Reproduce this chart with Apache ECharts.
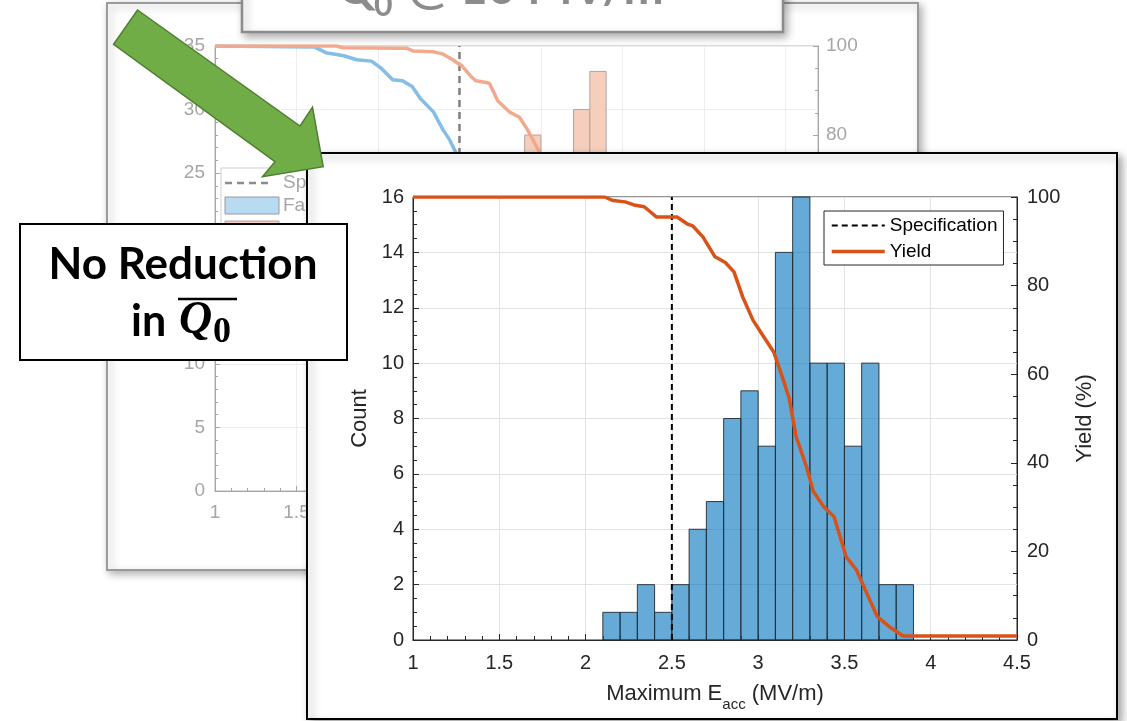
<!DOCTYPE html>
<html><head><meta charset="utf-8">
<script src="https://cdn.jsdelivr.net/npm/echarts@6/dist/echarts.min.js"></script>
<style>html,body{margin:0;padding:0;background:#fff}#c{width:1127px;height:721px}</style>
</head><body><div id="c"></div>
<script>
// ===== Front chart data =====
const binLeft   = [2.1,2.2,2.3,2.4,2.5,2.6,2.7,2.8,2.9,3.0,3.1,3.2,3.3,3.4,3.5,3.6,3.7,3.8];
const binCounts = [1,1,2,1,2,4,5,8,9,7,14,16,10,10,7,10,2,2];
const binWidth  = 0.1;
const yieldX = [1.0,2.11,2.16,2.23,2.28,2.34,2.38,2.41,2.53,2.59,2.62,2.68,2.75,2.81,2.86,2.91,2.97,3.02,3.09,3.14,3.18,3.22,3.28,3.32,3.38,3.44,3.51,3.57,3.63,3.69,3.76,3.84,4.5];
const yieldY = [100,100,99.2,98.9,98.2,97.8,96.5,95.5,95.5,93.9,93.5,91.0,86.5,85.2,83.1,77.5,72.2,69.2,65.0,59.4,54.5,45.9,39.1,33.5,30.1,27.8,18.8,15.8,10.5,5.3,3.0,0.9,0.9];
const specE = 2.5;
const legendNames = ['Specification','Yield'];

// ===== Background (faded) chart data =====
const bgBinLeft   = [2.9,3.2,3.3];
const bgBinCounts = [28,30,33];
const bgBlueX = [1.0,1.61,1.68,1.79,1.87,1.96,2.02,2.09,2.15,2.21,2.26,2.34,2.40,2.44,2.48,2.53];
const bgBlueY = [100,99.8,98.5,97.8,96.9,96.6,95.0,92.4,92.2,90.9,88.2,85.2,81.1,78.9,75.9,70];
const bgOrangeX = [1.0,1.745,1.786,2.133,2.174,2.214,2.337,2.378,2.398,2.459,2.49,2.511,2.572,2.60,2.664,2.684,2.735,2.806,2.868,2.919,2.99,3.05];
const bgOrangeY = [100,100,99.6,99.5,99.5,98.9,98.7,98.4,98.2,96.9,96.1,95.7,93.1,92.2,91.8,91.6,87.7,85.2,84.0,81.1,76.2,68];

const FONT = 'Liberation Sans';
const zip = (a,b)=>a.map((v,i)=>[v,b[i]]);

function histRender(fill, stroke, lw){
  return function(params, api){
    const x0 = api.value(0), x1 = api.value(1), c = api.value(2);
    const p0 = api.coord([x0, 0]);
    const p1 = api.coord([x1, c]);
    return {type:'rect', shape:{x:p0[0], y:p1[1], width:p1[0]-p0[0], height:p0[1]-p1[1]},
            style:{fill:fill, stroke:stroke, lineWidth:lw}};
  };
}

const bgGrey = '#a6a6a6';
const fg = '#262626';

const option = {
  animation:false,
  backgroundColor:'#fff',
  grid:[
    {left:215, top:46, width:603, height:445, show:true, borderColor:'#b4b4b4', borderWidth:1, backgroundColor:'transparent', z:1, outerBoundsMode:'none'},
    {left:413, top:197, width:604, height:443, show:true, borderColor:fg, borderWidth:1, backgroundColor:'transparent', z:11, outerBoundsMode:'none'}
  ],
  xAxis:[
    {type:'value', gridIndex:0, min:1, max:4.7, interval:0.5, z:1,
     axisLine:{lineStyle:{color:bgGrey}}, axisTick:{inside:true, length:5, lineStyle:{color:bgGrey}},
     minorTick:{show:true, splitNumber:5, length:3, lineStyle:{color:bgGrey}},
     axisLabel:{color:bgGrey, fontSize:19, fontFamily:FONT, margin:12, showMaxLabel:false},
     splitLine:{show:true, lineStyle:{color:'#eeeeee'}}},
    {type:'value', gridIndex:1, min:1, max:4.5, interval:0.5, z:12,
     axisLine:{lineStyle:{color:fg}}, axisTick:{inside:true, length:6, lineStyle:{color:fg}},
     minorTick:{show:true, splitNumber:5, length:4, lineStyle:{color:fg}},
     axisLabel:{color:fg, fontSize:20, fontFamily:FONT, margin:13},
     splitLine:{show:true, lineStyle:{color:'#e3e3e3'}},
     name:'{a|Maximum E}{b|acc}{a| (MV/m)}', nameLocation:'middle', nameGap:43,
     nameTextStyle:{color:fg, fontFamily:FONT, fontSize:22,
       rich:{a:{fontSize:22, fontFamily:FONT, color:fg, verticalAlign:'bottom', padding:[0,0,7,0]},
             b:{fontSize:15, fontFamily:FONT, color:fg, verticalAlign:'bottom'}}}}
  ],
  yAxis:[
    {type:'value', gridIndex:0, min:0, max:35, interval:5, position:'left', z:1,
     axisLine:{show:true, lineStyle:{color:bgGrey}}, axisTick:{inside:true, length:5, lineStyle:{color:bgGrey}},
     minorTick:{show:true, splitNumber:5, length:3, lineStyle:{color:bgGrey}},
     axisLabel:{color:bgGrey, fontSize:19, fontFamily:FONT, margin:10},
     splitLine:{show:true, lineStyle:{color:'#eeeeee'}}},
    {type:'value', gridIndex:0, min:0, max:100, interval:20, position:'right', z:1,
     axisLine:{show:true, lineStyle:{color:bgGrey}}, axisTick:{inside:true, length:5, lineStyle:{color:bgGrey}},
     minorTick:{show:true, splitNumber:4, length:3, lineStyle:{color:bgGrey}},
     axisLabel:{color:bgGrey, fontSize:19, fontFamily:FONT, margin:8},
     splitLine:{show:false}},
    {type:'value', gridIndex:1, min:0, max:16, interval:2, position:'left', z:12,
     axisLine:{show:true, lineStyle:{color:fg}}, axisTick:{inside:true, length:6, lineStyle:{color:fg}},
     minorTick:{show:true, splitNumber:4, length:4, lineStyle:{color:fg}},
     axisLabel:{color:fg, fontSize:20, fontFamily:FONT, margin:9},
     splitLine:{show:true, lineStyle:{color:'#e3e3e3'}},
     name:'Count', nameLocation:'middle', nameRotate:90, nameGap:40,
     nameTextStyle:{color:fg, fontSize:22, fontFamily:FONT}},
    {type:'value', gridIndex:1, min:0, max:100, interval:20, position:'right', z:12,
     axisLine:{show:true, lineStyle:{color:fg}}, axisTick:{inside:true, length:6, lineStyle:{color:fg}},
     minorTick:{show:true, splitNumber:4, length:4, lineStyle:{color:fg}},
     axisLabel:{color:fg, fontSize:20, fontFamily:FONT, margin:10},
     splitLine:{show:false},
     name:'Yield (%)', nameLocation:'middle', nameRotate:90, nameGap:57,
     nameTextStyle:{color:fg, fontSize:22, fontFamily:FONT}}
  ],
  legend:[{
    data:[{name:legendNames[0], lineStyle:{width:2}}, {name:legendNames[1], lineStyle:{width:3.5}}],
    orient:'vertical', left:824, top:211, z:20,
    backgroundColor:'#fff', borderColor:fg, borderWidth:1, borderRadius:0,
    padding:[5,6,4,6], itemGap:7, itemWidth:53, itemHeight:14,
    itemStyle:{opacity:0},
    textStyle:{fontFamily:FONT, fontSize:19, color:'#000'}
  }],
  series:[
    // background chart
    {name:'bgHist', type:'custom', xAxisIndex:0, yAxisIndex:0, z:2,
     renderItem:histRender('#f5cebd','#b3a49e',1),
     encode:{x:[0,1], y:2},
     data:bgBinLeft.map((l,i)=>[l, l+0.1, bgBinCounts[i]])},
    {name:'bgSpec', type:'line', xAxisIndex:0, yAxisIndex:1, z:3, symbol:'none',
     lineStyle:{color:'#7f7f7f', width:2.5, type:[7,5]}, data:[[specE,0],[specE,100]]},
    {name:'bgBlue', type:'line', xAxisIndex:0, yAxisIndex:1, z:3, symbol:'none',
     lineStyle:{color:'#85bde6', width:3.5}, data:zip(bgBlueX,bgBlueY)},
    {name:'bgOrange', type:'line', xAxisIndex:0, yAxisIndex:1, z:3, symbol:'none',
     lineStyle:{color:'#f2aa8e', width:3.5}, data:zip(bgOrangeX,bgOrangeY)},
    // front chart
    {name:'Count', type:'custom', xAxisIndex:1, yAxisIndex:2, z:13,
     renderItem:histRender('rgba(0,114,189,0.6)','#1f2a33',0.9),
     encode:{x:[0,1], y:2},
     data:binLeft.map((l,i)=>[l, l+binWidth, binCounts[i]])},
    {name:'Specification', type:'line', xAxisIndex:1, yAxisIndex:2, z:14, symbol:'none',
     itemStyle:{color:'#000'},
     lineStyle:{color:'#000', width:2, type:[6,4]}, data:[[specE,0],[specE,16]]},
    {name:'Yield', type:'line', xAxisIndex:1, yAxisIndex:3, z:15, symbol:'none',
     itemStyle:{color:'#D95319'},
     lineStyle:{color:'#D95319', width:3.5}, data:zip(yieldX,yieldY)}
  ],
  graphic:{elements:[
    // background slide panel
    {type:'rect', z:-1, shape:{x:107,y:3,width:811,height:567},
     style:{fill:'#fff', stroke:'#9a9a9a', lineWidth:2, shadowBlur:8, shadowColor:'rgba(0,0,0,0.3)', shadowOffsetX:3, shadowOffsetY:3}},
    // background legend (partially covered)
    {type:'rect', z:3, shape:{x:221,y:168,width:160,height:110}, style:{fill:'#fff', stroke:'#cfcfcf', lineWidth:1}},
    {type:'line', z:3, shape:{x1:225,y1:183,x2:272,y2:183}, style:{stroke:'#8c8c8c', lineWidth:2.5, lineDash:[7,5]}},
    {type:'text', z:3, x:283, y:183, style:{text:'Specification', fontSize:19, fontFamily:FONT, fill:bgGrey, verticalAlign:'middle'}},
    {type:'rect', z:3, shape:{x:225,y:197,width:54,height:17}, style:{fill:'#b9dbf1', stroke:'#9a9a9a', lineWidth:1}},
    {type:'text', z:3, x:283, y:206, style:{text:'Fabrication', fontSize:19, fontFamily:FONT, fill:bgGrey, verticalAlign:'middle'}},
    {type:'rect', z:3, shape:{x:225,y:221,width:54,height:17}, style:{fill:'#f5cebd', stroke:'#b3a49e', lineWidth:1}},
    // title box
    {type:'rect', z:6, shape:{x:242,y:-20,width:541,height:52},
     style:{fill:'#fff', stroke:'#8c8c8c', lineWidth:2.5, shadowBlur:8, shadowColor:'rgba(0,0,0,0.3)', shadowOffsetX:3, shadowOffsetY:4}},
    {type:'text', z:7, x:337, y:-11, style:{text:'Q', fontSize:48, fontWeight:'bold', fontFamily:'Lato', fill:'#8c8c8c', verticalAlign:'middle'}},
    {type:'text', z:7, x:374, y:6, style:{text:'0', fontSize:32, fontWeight:'bold', fontFamily:'Lato', fill:'#8c8c8c', verticalAlign:'middle'}},
    {type:'text', z:7, x:396, y:-11, style:{text:' @ 10 MV/m', fontSize:48, fontWeight:'bold', fontFamily:'Lato', fill:'#8c8c8c', verticalAlign:'middle'}},
    // front slide panel
    {type:'rect', z:10, shape:{x:307,y:153,width:810,height:566},
     style:{fill:'#fff', stroke:'#000', lineWidth:2, shadowBlur:8, shadowColor:'rgba(0,0,0,0.35)', shadowOffsetX:4, shadowOffsetY:4}},
    // callout box
    {type:'rect', z:30, shape:{x:20,y:224,width:327,height:136}, style:{fill:'#fff', stroke:'#000', lineWidth:2}},
    {type:'text', z:31, x:183, y:265, style:{text:'No Reduction', fontSize:44, fontWeight:'bold', fontFamily:'Lato', fill:'#000', align:'center', verticalAlign:'middle'}},
    {type:'text', z:31, x:131, y:322, style:{text:'in', fontSize:43, fontWeight:'bold', fontFamily:'Lato', fill:'#000', verticalAlign:'middle'}},
    {type:'text', z:31, x:179, y:321, style:{text:'Q', fontSize:46, fontWeight:'bold', fontStyle:'italic', fontFamily:'Liberation Serif', fill:'#000', verticalAlign:'middle'}},
    {type:'text', z:31, x:213, y:333, style:{text:'0', fontSize:36, fontWeight:'bold', fontFamily:'Liberation Serif', fill:'#000', verticalAlign:'middle'}},
    {type:'line', z:31, shape:{x1:178,y1:299,x2:237,y2:299}, style:{stroke:'#000', lineWidth:2.5}},
    // green arrow
    {type:'polygon', z:30, shape:{points:[[113.6,44.3],[137.5,10],[300,126],[312.5,107.3],[323.2,166.7],[262.5,176.7],[275,161.7]]},
     style:{fill:'#70ad47', stroke:'#4f7f31', lineWidth:1.5}}
  ]}
};
const chart = echarts.init(document.getElementById('c'), null, {renderer:'canvas'});
chart.setOption(option);
</script></body></html>
